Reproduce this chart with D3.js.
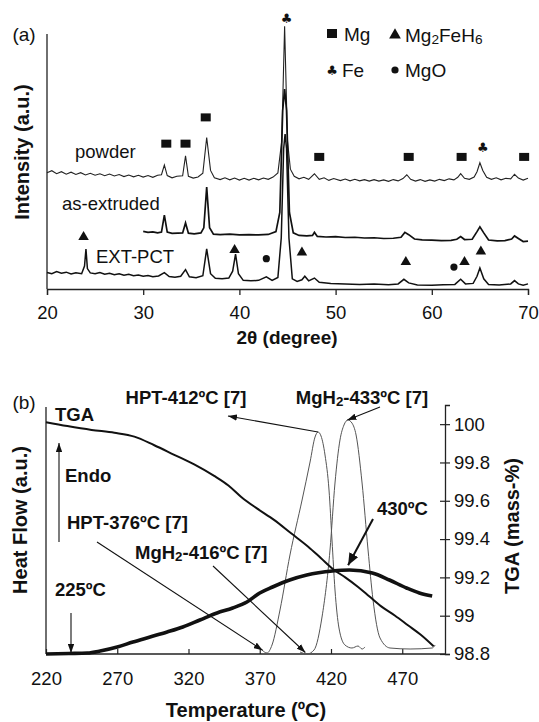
<!DOCTYPE html>
<html>
<head>
<meta charset="utf-8">
<script src="https://cdn.jsdelivr.net/npm/d3@7"></script>
<style>
body{margin:0;background:#fff}
svg text{font-family:"Liberation Sans",Arial,sans-serif;fill:#111}
</style>
</head>
<body>
<svg width="539" height="722"></svg>
<script>
// ---- panel (a) XRD data: [2theta, intensity a.u.]
const powder = [[20,45.6],[20.5,46.4],[21,45.2],[21.5,46.0],[22,45.0],[22.5,45.8],[23,44.9],[23.5,45.6],[24,44.7],[24.5,45.4],[25,44.6],[25.5,45.2],[26,44.4],[26.5,45.1],[27,44.3],[27.5,44.9],[28,44.1],[28.5,44.7],[29,44.0],[29.5,44.6],[30,43.9],[30.5,44.5],[31,43.8],[31.5,44.6],[31.9,44.8],[32.2,48.6],[32.5,44.5],[33,43.6],[33.5,44.2],[34.1,44.4],[34.4,52.2],[34.7,44.2],[35.2,43.5],[35.7,43.9],[36.2,45.4],[36.6,59.4],[37,46.5],[37.4,43.6],[38,42.9],[38.5,43.6],[39,42.8],[39.5,43.5],[40,42.7],[40.5,43.4],[41,42.7],[41.5,43.4],[42,42.8],[42.5,43.5],[43,43.0],[43.5,43.9],[44,45.5],[44.4,58],[44.7,103],[45,58],[45.3,47],[45.7,44.2],[46.2,43.2],[46.7,43.8],[47.2,43.0],[47.8,45.2],[48.3,43.0],[48.8,43.6],[49.3,42.6],[49.8,43.3],[50.5,42.5],[51,43.1],[51.5,42.4],[52,43.0],[52.5,42.4],[53,42.9],[53.5,42.3],[54,42.9],[54.5,42.3],[55,42.8],[55.5,42.2],[56,42.9],[56.5,42.4],[57,43.3],[57.4,44.8],[57.8,43.0],[58.3,42.3],[58.8,42.9],[59.3,42.2],[59.8,42.8],[60.3,42.3],[60.8,43.0],[61.3,42.5],[61.8,43.2],[62.3,42.8],[62.7,43.8],[63,45.2],[63.4,43.4],[63.9,43.0],[64.4,43.9],[64.7,46],[65,49.5],[65.3,46.5],[65.7,43.8],[66.2,43.0],[66.7,43.6],[67.2,42.8],[67.7,43.4],[68.2,43.2],[68.6,45.0],[69,43.5],[69.5,42.7],[70,43.4]]
const asExtruded = [[30,22.6],[30.5,22.2],[31,22.4],[31.5,22.0],[31.9,22.3],[32.2,29],[32.5,22.3],[33,21.8],[33.6,21.9],[34.1,22.0],[34.4,25.9],[34.7,21.9],[35.3,21.6],[36,22.0],[36.3,24],[36.6,40],[36.9,24],[37.3,21.5],[38,21.3],[39,21.5],[40,21.2],[41,21.3],[42,21.2],[43,21.4],[43.8,22.5],[44.2,30],[44.5,70],[44.7,78.4],[44.9,70],[45.2,30],[45.6,22],[46.2,21],[47,20.8],[47.6,21.0],[47.8,22.2],[48.1,20.6],[49,20.4],[50,20.5],[51,20.2],[52,20.3],[53,20.0],[54,20.1],[55,19.8],[56,19.9],[56.8,20.3],[57.2,22.2],[57.6,21.3],[58.2,19.6],[59,19.3],[60,19.2],[61,19.0],[62,19.1],[62.6,19.5],[63,20.6],[63.4,19.4],[64.2,19.5],[64.7,22.5],[65,24.4],[65.4,22.0],[65.9,19.2],[66.8,18.9],[67.6,19.0],[68.3,19.6],[68.6,20.8],[69,19.8],[69.5,18.6],[70,18.8]]
const extPct = [[20,6.5],[20.5,6.0],[21,6.8],[21.5,6.2],[22,6.6],[22.5,5.9],[23,6.4],[23.6,6.0],[23.9,9],[24.05,15.7],[24.2,8],[24.5,6.3],[25,6.0],[25.5,6.5],[26,5.8],[26.5,6.2],[27,5.6],[27.5,6.0],[28,5.4],[28.5,5.8],[29,5.2],[29.5,5.5],[30,5.0],[30.5,5.3],[31,4.8],[31.6,5.1],[32.2,6.4],[32.7,4.9],[33.3,4.6],[33.9,5.0],[34.4,7.6],[34.8,4.8],[35.5,4.4],[36.2,5.2],[36.6,15.7],[37,6],[37.5,4.2],[38.2,4.0],[38.9,4.3],[39.3,7],[39.6,13.7],[39.9,6],[40.4,3.4],[41.2,3.2],[42,3.4],[42.8,4.8],[43.4,3.4],[44,4.5],[44.35,20],[44.6,55],[44.75,60.8],[44.9,55],[45.15,20],[45.5,4],[46,3.0],[46.5,3.6],[46.8,5.0],[47.2,3.2],[47.8,4.3],[48.3,2.6],[49.5,2.2],[51,2.0],[52.5,1.8],[54,2.0],[55.5,1.7],[56.5,2.0],[57.1,3.8],[57.6,2.4],[58.5,1.6],[60,1.5],[61.2,1.7],[62.4,1.8],[63,3.8],[63.5,2.0],[64.3,2.2],[64.7,5],[65,8.2],[65.4,4],[65.9,1.8],[67,1.6],[68.2,2.0],[68.6,3.3],[69,2.0],[69.5,1.5],[70,2.0]]
const xrdTicks = [20,30,40,50,60,70]
// phase markers [2theta, intensity]
const mgPeaks = [[32.4,57],[34.4,57],[36.5,67.3],[48.3,51.8],[57.6,51.8],[63.1,51.8],[69.6,51.8]]
const fePeaks = [[44.9,105.9],[65.3,55.3]]
const mg2feh6Peaks = [[23.8,20.4],[39.5,15.3],[46.5,14.3],[57.3,10.6],[63.4,10.6],[65.1,14.7]]
const mgoPeaks = [[42.8,11.9],[62.3,8.6]]

// ---- panel (b) thermal data: [T degC, value]
const tga = [[220,100.01],[235,99.99],[252,99.97],[268,99.955],[282,99.935],[296,99.89],[310,99.84],[324,99.79],[338,99.73],[348,99.68],[357,99.62],[368,99.56],[380,99.5],[392,99.43],[404,99.36],[413,99.3],[422,99.24],[430,99.2],[439,99.15],[447,99.1],[455,99.05],[465,99.0],[474,98.95],[483,98.9],[492,98.84]]
const dsc = [[220,0],[236,0.2],[249,0.4],[258,1.2],[270,2.8],[281,4.8],[293,6.8],[305,8.8],[316,10.8],[328,13.6],[340,16.4],[351,18.4],[361,20.8],[370,24.4],[379,26.8],[391,29.6],[403,31.6],[421,33.2],[433,33.6],[449,32.4],[461,29.6],[473,26.4],[482,24.4],[491,23.2]]
const hptRef = [[371.6,1.6],[375.1,0.4],[378.6,3.6],[384.2,17.6],[391.2,39.6],[399.7,61.6],[405.3,76.8],[408.8,86.8],[410.9,88.8],[413,87.2],[415.8,79.6],[418.6,65.6],[420.7,45.6],[422.8,25.6],[425.6,10.4],[429.8,3.6],[434.7,2.4],[439,3.2],[441.8,2],[443.9,2.8]]
const mgh2Ref = [[398.3,0.8],[403.2,0],[408.1,1.6],[413.7,14.8],[419.3,41.6],[422.8,68.4],[426.3,85.6],[429.1,91.6],[431.9,93.6],[434.7,92.4],[437.6,87.6],[441.8,68.4],[446,41.6],[449.5,21.6],[454.4,6.4],[461.4,2.4],[475.5,2],[491,2.4],[493.1,3.6]]
const tempTicks = [220,270,320,370,420,470]
const tgaTicks = [98.8,99,99.2,99.4,99.6,99.8,100]

const svg = d3.select('svg')
const FS = 18.5

// arrow heads
const defs = svg.append('defs')
const marker = (id,w,h) => defs.append('marker')
  .attr('id',id).attr('viewBox',`0 ${-h} ${w} ${h*2}`)
  .attr('refX',w).attr('refY',0)
  .attr('markerWidth',w).attr('markerHeight',h*2)
  .attr('markerUnits','userSpaceOnUse').attr('orient','auto')
  .append('path').attr('d',`M0,${-h}L${w},0L0,${h}Z`).attr('fill','#111')
marker('ah',9,3.2)
marker('ahBig',12,5)

function rich(sel,parts){
  let shift = 0
  parts.forEach(([t,sub]) => {
    const s = sub ? 4 : 0
    sel.append('tspan').text(t)
      .attr('dy',s-shift)
      .attr('font-size',sub ? '72%' : null)
    shift = s
  })
  return sel
}
const label = (x,y,txt,opt={}) => svg.append('text')
  .attr('x',x).attr('y',y).attr('dominant-baseline','central')
  .attr('text-anchor',opt.anchor || 'start')
  .attr('font-size',opt.size || FS)
  .attr('font-weight',opt.bold ? 'bold' : null)
  .text(txt)

// ================= panel (a)
const x1 = d3.scaleLinear().domain([20,70]).range([47,528])
const y1 = d3.scaleLinear().domain([0,100]).range([289,34])

const ax1 = svg.append('g').attr('transform','translate(0,289)')
  .call(d3.axisBottom(x1).tickValues(xrdTicks).tickSizeOuter(0).tickSize(6).tickPadding(11))
ax1.select('.domain').attr('stroke','#222').attr('stroke-width',1.3)
ax1.selectAll('.tick line').attr('stroke','#222').attr('stroke-width',1.3)
ax1.selectAll('.tick text').attr('font-size',FS).attr('font-family','Liberation Sans, Arial').attr('fill','#111')

svg.append('line').attr('x1',47).attr('x2',47).attr('y1',y1(100)).attr('y2',y1(0))
  .attr('stroke','#222').attr('stroke-width',1.3)

const xrdLine = d3.line().x(d => x1(d[0])).y(d => y1(d[1]))
svg.append('path').datum(powder).attr('d',xrdLine).attr('fill','none').attr('stroke','#222').attr('stroke-width',1.1)
svg.append('path').datum(asExtruded).attr('d',xrdLine).attr('fill','none').attr('stroke','#111').attr('stroke-width',1.7)
svg.append('path').datum(extPct).attr('d',xrdLine).attr('fill','none').attr('stroke','#111').attr('stroke-width',1.5)

// phase markers
svg.append('g').selectAll('rect').data(mgPeaks).join('rect')
  .attr('x',d => x1(d[0])-5).attr('y',d => y1(d[1])-4).attr('width',10).attr('height',8).attr('fill','#111')
svg.append('g').selectAll('path').data(mg2feh6Peaks).join('path')
  .attr('transform',d => `translate(${x1(d[0])},${y1(d[1])})`)
  .attr('d',d3.symbol(d3.symbolTriangle,48)).attr('fill','#111')
svg.append('g').selectAll('circle').data(mgoPeaks).join('circle')
  .attr('cx',d => x1(d[0])).attr('cy',d => y1(d[1])).attr('r',3.6).attr('fill','#111')
svg.append('g').selectAll('text').data(fePeaks).join('text')
  .attr('x',d => x1(d[0])).attr('y',d => y1(d[1])).attr('text-anchor','middle').attr('dominant-baseline','central')
  .attr('font-size',13).style('font-family','DejaVu Sans').text('\u2663')

// legend
svg.append('rect').attr('x',327).attr('y',29).attr('width',10).attr('height',9).attr('fill','#111')
label(344,34,'Mg',{size:19})
svg.append('path').attr('transform','translate(395,35)').attr('d',d3.symbol(d3.symbolTriangle,60)).attr('fill','#111')
rich(label(405,35,'',{size:19}),[['Mg'],['2',1],['FeH'],['6',1]])
svg.append('text').attr('x',332).attr('y',70).attr('text-anchor','middle').attr('dominant-baseline','central')
  .attr('font-size',13).style('font-family','DejaVu Sans').text('\u2663')
label(342,70,'Fe',{size:19})
svg.append('circle').attr('cx',395).attr('cy',70).attr('r',3.6).attr('fill','#111')
label(405,70,'MgO',{size:19})

label(75,151,'powder')
label(62,203,'as-extruded')
label(96,256,'EXT-PCT')
label(24,34,'(a)',{size:19,anchor:'middle'})
label(287,337,'2\u03b8 (degree)',{size:19,bold:true,anchor:'middle'})
svg.append('text').attr('transform','translate(22,152) rotate(-90)').attr('text-anchor','middle')
  .attr('dominant-baseline','central').attr('font-size',20).attr('font-weight','bold').text('Intensity (a.u.)')

// ================= panel (b)
const x2 = d3.scaleLinear().domain([220,500]).range([46,445])
const yHf = d3.scaleLinear().domain([0,100]).range([654,404])
const yTga = d3.scaleLinear().domain([98.8,100.1]).range([654,405])

const ax2 = svg.append('g').attr('transform','translate(0,654)')
  .call(d3.axisBottom(x2).tickValues(tempTicks).tickSizeOuter(0).tickSizeInner(-5).tickPadding(18))
ax2.select('.domain').attr('d','M46,0H445').attr('stroke','#222').attr('stroke-width',1.3)
ax2.selectAll('.tick line').attr('stroke','#222').attr('stroke-width',1.2)
ax2.selectAll('.tick text').attr('font-size',FS).attr('font-family','Liberation Sans, Arial').attr('fill','#111')

const ay2 = svg.append('g').attr('transform','translate(445,0)')
  .call(d3.axisRight(yTga).tickValues(tgaTicks).tickFormat(d => String(+d.toFixed(1))).tickSizeOuter(0).tickSize(5).tickPadding(4))
ay2.select('.domain').attr('stroke','#222').attr('stroke-width',1.3)
ay2.selectAll('.tick line').attr('x1',-5).attr('stroke','#222').attr('stroke-width',1.2)
ay2.selectAll('.tick text').attr('font-size',FS).attr('font-family','Liberation Sans, Arial').attr('fill','#111')

svg.append('line').attr('x1',46).attr('x2',46).attr('y1',407).attr('y2',654)
  .attr('stroke','#222').attr('stroke-width',1.3)

const hfLine = d3.line().x(d => x2(d[0])).y(d => yHf(d[1])).curve(d3.curveMonotoneX)
const tgaLine = d3.line().x(d => x2(d[0])).y(d => yTga(d[1])).curve(d3.curveMonotoneX)
svg.append('path').datum(hptRef).attr('d',hfLine).attr('fill','none').attr('stroke','#555').attr('stroke-width',1)
svg.append('path').datum(mgh2Ref).attr('d',hfLine).attr('fill','none').attr('stroke','#555').attr('stroke-width',1)
svg.append('path').datum(tga).attr('d',tgaLine).attr('fill','none').attr('stroke','#111').attr('stroke-width',2)
svg.append('path').datum(dsc).attr('d',hfLine).attr('fill','none').attr('stroke','#111').attr('stroke-width',3.6)

// annotation arrows
const arrow = (x1_,y1_,x2_,y2_,big) => svg.append('line')
  .attr('x1',x1_).attr('y1',y1_).attr('x2',x2_).attr('y2',y2_)
  .attr('stroke','#111').attr('stroke-width',big ? 2 : 1.1)
  .attr('marker-end',`url(#${big ? 'ahBig' : 'ah'})`)
arrow(x2(410.9),yHf(88.8),228,416)
arrow(380,407,x2(431.5),yHf(93.6))
arrow(97,542,x2(372),yHf(1.5))
arrow(213,566,x2(402),yHf(0.6))
arrow(71,613,71,653)
arrow(59,542,59,443)
arrow(373,519,x2(432),yHf(35.5),true)

label(186,397,'HPT-412ºC [7]',{bold:true,anchor:'middle'})
rich(label(362,397,'',{bold:true,anchor:'middle'}),[['MgH'],['2',1],['-433ºC [7]']])
label(55,414,'TGA',{bold:true})
label(65,475,'Endo',{bold:true})
label(67,522,'HPT-376ºC [7]',{bold:true})
rich(label(135,552,'',{bold:true}),[['MgH'],['2',1],['-416ºC [7]']])
label(55,589,'225ºC',{bold:true})
label(377,508,'430ºC',{bold:true})
label(24,402,'(b)',{size:19,anchor:'middle'})
label(246,710,'Temperature (ºC)',{size:20,bold:true,anchor:'middle'})
svg.append('text').attr('transform','translate(20,520) rotate(-90)').attr('text-anchor','middle')
  .attr('dominant-baseline','central').attr('font-size',20).attr('font-weight','bold').text('Heat Flow (a.u.)')
svg.append('text').attr('transform','translate(512,526) rotate(-90)').attr('text-anchor','middle')
  .attr('dominant-baseline','central').attr('font-size',20).attr('font-weight','bold').text('TGA (mass-%)')
</script>
</body>
</html>
